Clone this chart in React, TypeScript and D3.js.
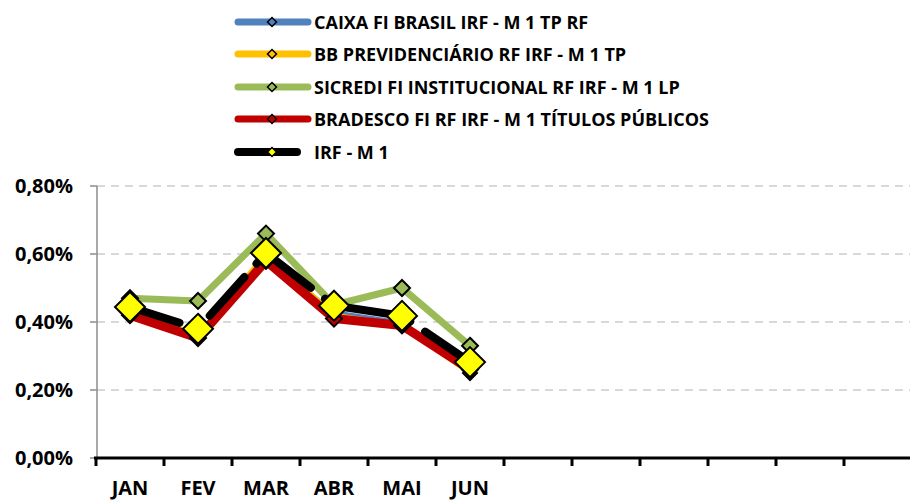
import { useEffect, useRef } from "react";
import * as d3 from "d3";

const WIDTH = 910;
const HEIGHT = 502;
const PAD = { left: 97, right: 0, top: 186, bottom: 44 };
const FONT = "'Open Sans', Lato, sans-serif";

const months = ["JAN", "FEV", "MAR", "ABR", "MAI", "JUN", "JUL", "AGO", "SET", "OUT", "NOV", "DEZ"];
const monthLabels = ["JAN", "FEV", "MAR", "ABR", "MAI", "JUN"];
const yTicks = [0, 0.002, 0.004, 0.006, 0.008];

const caixa = [0.0043, 0.0036, 0.0059, 0.0043, 0.004, 0.0026];
const bb = [0.0043, 0.0036, 0.006, 0.0042, 0.0039, 0.0025];
const sicredi = [0.0047, 0.00462, 0.0066, 0.0045, 0.005, 0.0033];
const bradesco = [0.0042, 0.00353, 0.0058, 0.0041, 0.0039, 0.0026];
const irf = [0.00444, 0.0038, 0.00603, 0.00448, 0.00418, 0.00282];

type Series = {
  name: string;
  values: number[];
  color: string;
  width: number;
  marker: string;
  markerSize: number;
  dash?: string;
};

const series: Series[] = [
  { name: "CAIXA FI BRASIL IRF - M 1 TP RF", values: caixa, color: "#4f81bd", width: 3, marker: "#4f81bd", markerSize: 7 },
  { name: "BB PREVIDENCIÁRIO RF IRF - M 1 TP", values: bb, color: "#ffc000", width: 5, marker: "#ffc000", markerSize: 7 },
  { name: "SICREDI FI INSTITUCIONAL RF IRF - M 1 LP", values: sicredi, color: "#9bbb59", width: 7, marker: "#9bbb59", markerSize: 8 },
  { name: "BRADESCO FI RF IRF - M 1 TÍTULOS PÚBLICOS", values: bradesco, color: "#c00000", width: 9, marker: "#c00000", markerSize: 8 },
  { name: "IRF - M 1", values: irf, color: "#000000", width: 8, marker: "#ffff00", markerSize: 15, dash: "52 18 1 18" },
];

const legendY = [22, 54, 87, 119, 152];

const diamond = (cx: number, cy: number, r: number) =>
  `M${cx},${cy - r}L${cx + r},${cy}L${cx},${cy + r}L${cx - r},${cy}Z`;

export default function App() {
  const svgRef = useRef<SVGSVGElement | null>(null);

  useEffect(() => {
    const svgEl = svgRef.current;
    if (!svgEl) return;
    const svg = d3.select(svgEl);
    svg.selectAll("*").remove();

    const x = d3.scaleBand<string>().domain(months).range([PAD.left - 1, WIDTH + 2]);
    const y = d3.scaleLinear().domain([0, 0.008]).range([HEIGHT - PAD.bottom, PAD.top]);
    const cx = (i: number) => (x(months[i]) ?? 0) + x.bandwidth() / 2;
    const fmt = (v: number) => `${(v * 100).toFixed(2).replace(".", ",")}%`;

    // grid
    svg
      .append("g")
      .selectAll("line")
      .data(yTicks.filter((t) => t > 0))
      .join("line")
      .attr("x1", PAD.left)
      .attr("x2", WIDTH)
      .attr("y1", (d) => y(d))
      .attr("y2", (d) => y(d))
      .attr("stroke", "#d9d9d9")
      .attr("stroke-width", 2)
      .attr("stroke-dasharray", "8 6");

    // y axis
    const gy = svg.append("g");
    gy.append("line")
      .attr("x1", PAD.left)
      .attr("x2", PAD.left)
      .attr("y1", y(0.008))
      .attr("y2", y(0))
      .attr("stroke", "#8c8c8c")
      .attr("stroke-width", 1.5);
    gy.selectAll("line.tick")
      .data(yTicks)
      .join("line")
      .attr("class", "tick")
      .attr("x1", PAD.left - 7)
      .attr("x2", PAD.left)
      .attr("y1", (d) => y(d))
      .attr("y2", (d) => y(d))
      .attr("stroke", "#8c8c8c")
      .attr("stroke-width", 1.5);
    gy.selectAll("text")
      .data(yTicks)
      .join("text")
      .attr("x", 73)
      .attr("y", (d) => y(d) + 7)
      .attr("text-anchor", "end")
      .attr("font-family", FONT)
      .attr("font-weight", 700)
      .attr("font-size", "20px")
      .attr("fill", "#000")
      .text(fmt);

    // x axis
    const gx = svg.append("g");
    gx.append("line")
      .attr("x1", PAD.left - 3)
      .attr("x2", WIDTH)
      .attr("y1", y(0))
      .attr("y2", y(0))
      .attr("stroke", "#000")
      .attr("stroke-width", 3);
    gx.selectAll("line.tick")
      .data(d3.range(months.length + 1))
      .join("line")
      .attr("class", "tick")
      .attr("x1", (i) => x(months[i]) ?? x.range()[1])
      .attr("x2", (i) => x(months[i]) ?? x.range()[1])
      .attr("y1", y(0))
      .attr("y2", y(0) + 8)
      .attr("stroke", "#000")
      .attr("stroke-width", 3);
    gx.selectAll("text")
      .data(monthLabels)
      .join("text")
      .attr("x", (_, i) => cx(i))
      .attr("y", 495)
      .attr("text-anchor", "middle")
      .attr("font-family", FONT)
      .attr("font-weight", 700)
      .attr("font-size", "20px")
      .attr("fill", "#000")
      .text((d) => d);

    // lines
    const line = d3
      .line<number>()
      .x((_, i) => cx(i))
      .y((d) => y(d));
    const gLines = svg.append("g");
    series.forEach((s) => {
      const g = gLines.append("g");
      g.append("path")
        .attr("d", line(s.values))
        .attr("fill", "none")
        .attr("stroke", s.color)
        .attr("stroke-width", s.width)
        .attr("stroke-linecap", s.dash ? "round" : "butt")
        .attr("stroke-linejoin", "round")
        .attr("stroke-dasharray", s.dash ?? null);
      g.selectAll("path.m")
        .data(s.values)
        .join("path")
        .attr("class", "m")
        .attr("d", (d, i) => diamond(cx(i), y(d), s.markerSize))
        .attr("fill", s.marker)
        .attr("stroke", "#000")
        .attr("stroke-width", 2);
    });

    // legend
    const gLeg = svg.append("g");
    series.forEach((s, i) => {
      const ly = legendY[i];
      const isLast = i === series.length - 1;
      gLeg.append("line")
        .attr("x1", 238)
        .attr("x2", isLast ? 297 : 308)
        .attr("y1", ly)
        .attr("y2", ly)
        .attr("stroke", s.color)
        .attr("stroke-width", isLast ? 8 : 7)
        .attr("stroke-linecap", "round");
      gLeg.append("path")
        .attr("d", diamond(272, ly, 4.5))
        .attr("fill", s.marker)
        .attr("stroke", "#000")
        .attr("stroke-width", 1.5);
      gLeg.append("text")
        .attr("x", 314)
        .attr("y", ly + 6.5)
        .attr("font-family", FONT)
        .attr("font-weight", 700)
        .attr("font-size", "18px")
        .attr("fill", "#000")
        .text(s.name);
    });
  }, []);

  return (
    <svg
      ref={svgRef}
      width={WIDTH}
      height={HEIGHT}
      viewBox={`0 0 ${WIDTH} ${HEIGHT}`}
      style={{ position: "absolute", left: 0, top: 0, background: "#fff" }}
    />
  );
}
